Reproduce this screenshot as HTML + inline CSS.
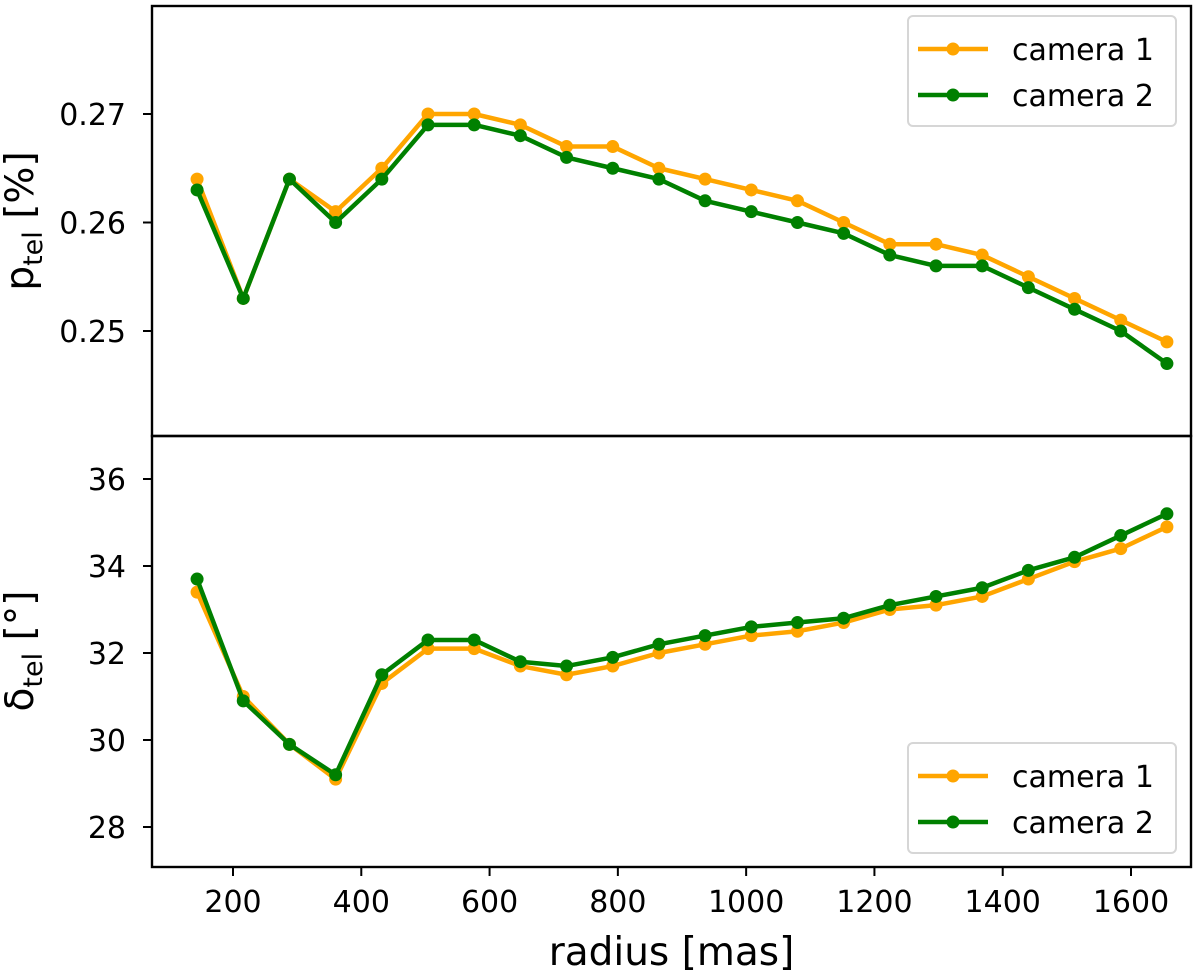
<!DOCTYPE html>
<html><head><meta charset="utf-8"><style>
body{margin:0;background:#fff}
svg text{font-family:"DejaVu Sans","Liberation Sans",sans-serif;fill:#000}
</style></head><body>
<svg id="c" width="1200" height="974" viewBox="0 0 1200 974" xmlns="http://www.w3.org/2000/svg"></svg>
<script>
const radii=[144,216,288,360,432,504,576,648,720,792,864,936,1008,1080,1152,1224,1296,1368,1440,1512,1584,1656];
const pCam1=[0.264,0.253,0.264,0.261,0.265,0.270,0.270,0.269,0.267,0.267,0.265,0.264,0.263,0.262,0.260,0.258,0.258,0.257,0.255,0.253,0.251,0.249];
const pCam2=[0.263,0.253,0.264,0.260,0.264,0.269,0.269,0.268,0.266,0.265,0.264,0.262,0.261,0.260,0.259,0.257,0.256,0.256,0.254,0.252,0.250,0.247];
const dCam1=[33.4,31.0,29.9,29.1,31.3,32.1,32.1,31.7,31.5,31.7,32.0,32.2,32.4,32.5,32.7,33.0,33.1,33.3,33.7,34.1,34.4,34.9];
const dCam2=[33.7,30.9,29.9,29.2,31.5,32.3,32.3,31.8,31.7,31.9,32.2,32.4,32.6,32.7,32.8,33.1,33.3,33.5,33.9,34.2,34.7,35.2];
const xTicks=[200,400,600,800,1000,1200,1400,1600];
const pTicks=[0.25,0.26,0.27];
const pTickLabels=["0.25","0.26","0.27"];
const dTicks=[28,30,32,34,36];
const seriesNames=["camera 1","camera 2"];

const L=152,R=1191,T=6,M=436,B=867;
const sx=v=>233+(v-200)*(1131-233)/1400;
const sp=v=>114+(0.27-v)*10850;
const sd=v=>479+(36-v)*(827-479)/8;
const svg=document.getElementById('c');
const NS='http://www.w3.org/2000/svg';
function mk(tag,attrs,parent){const e=document.createElementNS(NS,tag);for(const k in attrs)e.setAttribute(k,attrs[k]);(parent||svg).appendChild(e);return e;}
const colors=['#ffa500','#008000'];

function panel(name,y0,y1,sy,s1,s2,ticks,labels){
  const g=mk('g',{});
  
  
  ticks.forEach((t,i)=>{
    const y=sy(t);
    const tl=mk('line',{x1:L-9,x2:L,y1:y,y2:y,stroke:'#000','stroke-width':2},g);
    
    
    const tx=mk('text',{x:L-26,y:y+11,'text-anchor':'end','font-size':30},g);
    
    
    tx.textContent=labels[i];
  });
  [s1,s2].forEach((s,si)=>{
    const pts=s.map((v,i)=>sx(radii[i])+','+sy(v)).join(' ');
    const pl=mk('polyline',{points:pts,fill:'none',stroke:colors[si],'stroke-width':4.5,'stroke-linejoin':'round'},g);
    
    
    s.forEach((v,i)=>{
      const c=mk('circle',{cx:sx(radii[i]),cy:sy(v),r:6.5,fill:colors[si]},g);
      
      
    });
  });
  const fr=mk('rect',{x:L,y:y0,width:R-L,height:y1-y0,fill:'none',stroke:'#000','stroke-width':2.4},g);
  
  
}
panel('top-panel',T,M,sp,pCam1,pCam2,pTicks,pTickLabels);
panel('bottom-panel',M,B,sd,dCam1,dCam2,dTicks,dTicks.map(String));

xTicks.forEach(t=>{
  const x=sx(t);
  const tl=mk('line',{x1:x,x2:x,y1:B,y2:B+9,stroke:'#000','stroke-width':2});
  
  
  const tx=mk('text',{x:x,y:B+45,'text-anchor':'middle','font-size':30});
  
  
  tx.textContent=t;
});

function legend(name,y0){
  const g=mk('g',{});
  
  
  mk('rect',{x:908,y:y0,width:268,height:110,rx:5,fill:'#fff',stroke:'#d6d6d6','stroke-width':2},g);
  seriesNames.forEach((n,i)=>{
    const y=y0+33+i*46;
    mk('line',{x1:918,x2:988,y1:y,y2:y,stroke:colors[i],'stroke-width':4.5},g);
    mk('circle',{cx:953,cy:y,r:6.5,fill:colors[i]},g);
    const tx=mk('text',{x:1012,y:y+11,'font-size':30},g);
    
    
    tx.textContent=n;
  });
}
legend('top-legend',16);
legend('bottom-legend',743);

const xl=mk('text',{x:(L+R)/2,y:965,'text-anchor':'middle','font-size':39});


xl.textContent='radius [mas]';
const yl1=mk('text',{transform:'translate(33,221) rotate(-90)','text-anchor':'middle','font-size':39});


yl1.innerHTML='p<tspan font-size="27" dy="9">tel</tspan><tspan dy="-9"> [%]</tspan>';
const yl2=mk('text',{transform:'translate(33,651) rotate(-90)','text-anchor':'middle','font-size':39});


yl2.innerHTML='δ<tspan font-size="27" dy="9">tel</tspan><tspan dy="-9"> [°]</tspan>';
</script>
</body></html>
